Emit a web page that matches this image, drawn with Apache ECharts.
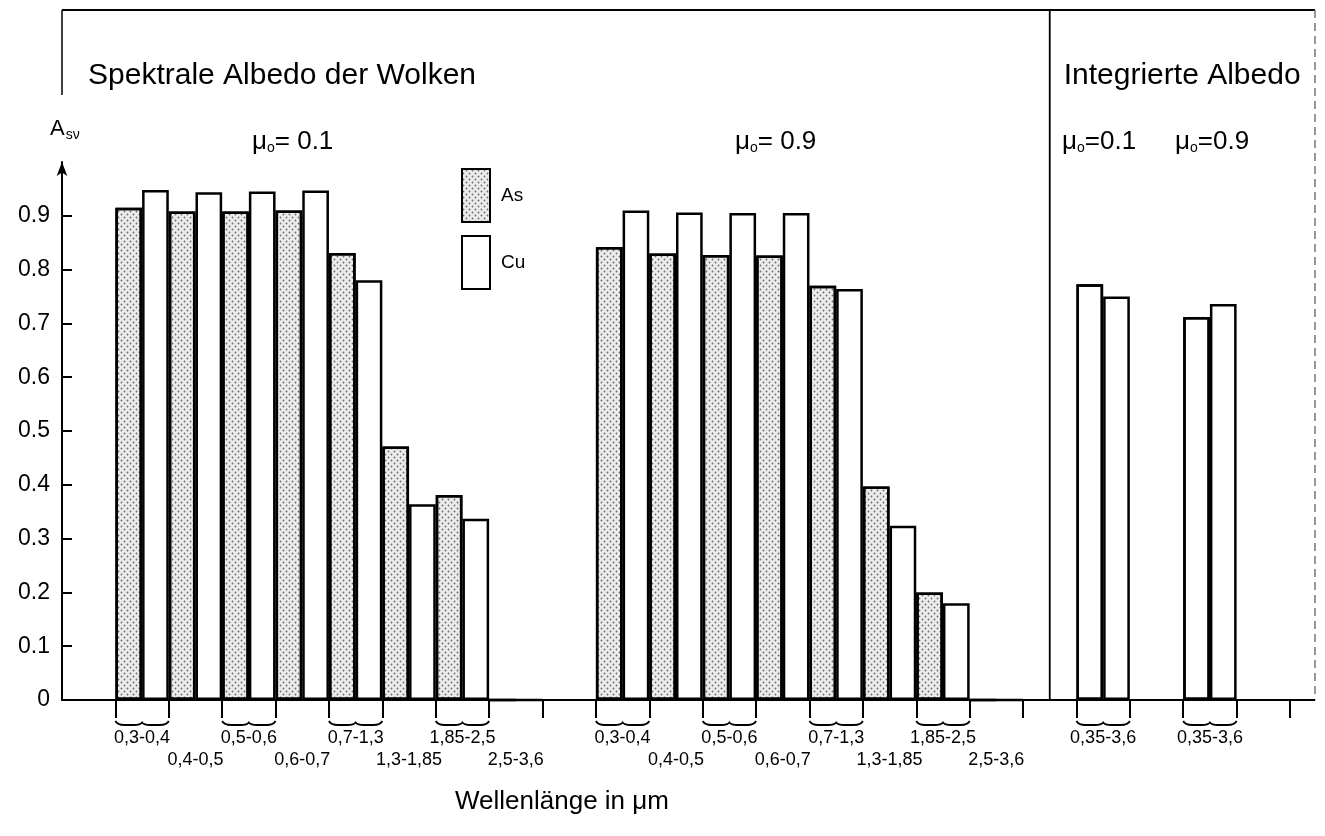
<!DOCTYPE html>
<html><head><meta charset="utf-8">
<script src="https://cdn.jsdelivr.net/npm/echarts@6/dist/echarts.min.js"></script>
<style>html,body{margin:0;padding:0;background:#fff}#c{width:1325px;height:836px}</style>
</head><body><div id="c"></div>
<script>
// ---- data ----
const wavebands = ['0,3-0,4','0,4-0,5','0,5-0,6','0,6-0,7','0,7-1,3','1,3-1,85','1,85-2,5','2,5-3,6'];
const integratedBand = '0,35-3,6';
const asMu01 = [0.915, 0.908, 0.908, 0.910, 0.831, 0.471, 0.381, 0];
const cuMu01 = [0.948, 0.944, 0.945, 0.947, 0.780, 0.364, 0.337, 0];
const asMu09 = [0.842, 0.830, 0.827, 0.826, 0.770, 0.397, 0.200, 0];
const cuMu09 = [0.910, 0.906, 0.905, 0.905, 0.764, 0.324, 0.180, 0];
const asIntegrated = [0.773, 0.712];
const cuIntegrated = [0.750, 0.736];
const yTickValues = [0, 0.1, 0.2, 0.3, 0.4, 0.5, 0.6, 0.7, 0.8, 0.9];
const yTickLabels = ['0','0.1','0.2','0.3','0.4','0.5','0.6','0.7','0.8','0.9'];

// ---- build axis / series ----
const categories = ['', ...wavebands, '', ...wavebands, '', integratedBand, '', integratedBand, ''];
const bandRows = wavebands.map((_, i) => (i % 2 === 0 ? 1 : 2));
const rows = [0, ...bandRows, 0, ...bandRows, 0, 1, 0, 1, 0];
const plainStyle = {color: '#fff', decal: {symbol: 'none'}};
const asData = ['-', ...asMu01, '-', ...asMu09, '-',
  {value: asIntegrated[0], itemStyle: plainStyle}, '-', {value: asIntegrated[1], itemStyle: plainStyle}, '-'];
const cuData = ['-', ...cuMu01, '-', ...cuMu09, '-', cuIntegrated[0], '-', cuIntegrated[1], '-'];
const braceData = rows.map((r, i) => r === 1 ? [i, 0] : null).filter(Boolean);

const FONT = '"Liberation Sans", Arial, Helvetica, sans-serif';
const chart = echarts.init(document.getElementById('c'), null, {renderer: 'canvas'});

const stipple = {
  symbol: 'circle', symbolSize: 0.6, color: 'rgba(0,0,0,0.55)',
  dashArrayX: [[3, 3], [0, 3, 3, 0]], dashArrayY: [3, 0]
};

chart.setOption({
  backgroundColor: '#fff',
  animation: false,
  textStyle: {fontFamily: FONT, color: '#000'},
  grid: {left: 62, right: 35, top: 162, bottom: 136, containLabel: false},
  legend: {
    data: ['As', 'Cu'], orient: 'vertical', left: 461, top: 168,
    itemWidth: 28, itemHeight: 53, itemGap: 12, padding: 0, icon: 'rect',
    textStyle: {fontSize: 19, fontFamily: FONT, color: '#000', padding: [0, 0, 0, 6]}
  },
  xAxis: {
    type: 'category', data: categories, boundaryGap: true,
    axisLine: {show: true, lineStyle: {color: '#000', width: 2}},
    axisTick: {show: true, length: 18, interval: (i) => i > 0, lineStyle: {color: '#000', width: 2}},
    axisLabel: {
      interval: 0, margin: 27, fontSize: 18, lineHeight: 22, color: '#000', fontFamily: FONT,
      hideOverlap: false,
      formatter: (v, i) => rows[i] === 1 ? v : (rows[i] === 2 ? '\n' + v : '')
    },
    splitLine: {show: false}
  },
  yAxis: {
    type: 'value', min: 0, max: 1, interval: 0.1,
    axisLine: {show: true, symbol: ['none', 'arrow'], symbolSize: [8, 14], lineStyle: {color: '#000', width: 2}},
    axisTick: {show: true, inside: true, length: 10, customValues: yTickValues, lineStyle: {color: '#000', width: 2}},
    axisLabel: {
      margin: 12, fontSize: 23, color: '#000', fontFamily: FONT, customValues: yTickValues,
      formatter: (v) => { const k = Math.round(v * 10); return k < yTickLabels.length ? yTickLabels[k] : ''; }
    },
    splitLine: {show: false}
  },
  series: [
    {
      name: 'As', type: 'bar', data: asData, barGap: '0%', barCategoryGap: '0%',
      itemStyle: {color: '#ececec', borderColor: '#000', borderWidth: 2.5, decal: stipple}
    },
    {
      name: 'Cu', type: 'bar', data: cuData, barGap: '0%', barCategoryGap: '0%',
      itemStyle: {color: '#fff', borderColor: '#000', borderWidth: 2.5}
    },
    {
      name: 'braces', type: 'custom', data: braceData, clip: false, silent: true,
      encode: {x: 0, y: 1},
      renderItem: (params, api) => {
        const c = api.coord([api.value(0), 0]);
        const w = api.size([1, 0])[0];
        const x0 = c[0] - w / 2, x1 = c[0] + w / 2, xm = c[0];
        const y = c[1] + 21;
        const d = `M${x0} ${y} Q${x0 + 2} ${y + 4} ${x0 + 9} ${y + 4} L${xm - 8} ${y + 4} Q${xm - 2} ${y + 4} ${xm} ${y + 1.5} ` +
                  `Q${xm + 2} ${y + 4} ${xm + 8} ${y + 4} L${x1 - 9} ${y + 4} Q${x1 - 2} ${y + 4} ${x1} ${y}`;
        return {type: 'path', shape: {pathData: d}, style: {fill: null, stroke: '#000', lineWidth: 1.8}};
      }
    }
  ]
});

// decorative frame & texts, divider placed through the axis
const divX = chart.convertToPixel({xAxisIndex: 0}, 18);
const baseY = chart.convertToPixel({yAxisIndex: 0}, 0);
const muRich = {
  m: {fontSize: 26, fontFamily: FONT, color: '#000'},
  s: {fontSize: 14, fontFamily: FONT, color: '#000', padding: [13, 0, 0, 0]}
};
chart.setOption({
  graphic: [
    {type: 'line', shape: {x1: 62, y1: 10, x2: 1315, y2: 10}, style: {stroke: '#000', lineWidth: 2}},
    {type: 'line', shape: {x1: 62, y1: 10, x2: 62, y2: 95}, style: {stroke: '#000', lineWidth: 1.5}},
    {type: 'line', shape: {x1: divX, y1: 10, x2: divX, y2: baseY}, style: {stroke: '#000', lineWidth: 1.8}},
    {type: 'line', shape: {x1: 1315, y1: 10, x2: 1315, y2: baseY}, style: {stroke: '#777', lineWidth: 1.5, lineDash: [8, 5]}},
    {type: 'line', shape: {x1: 1290, y1: baseY, x2: 1315, y2: baseY}, style: {stroke: '#000', lineWidth: 2}},
    {type: 'text', left: 88, top: 61, style: {text: 'Spektrale Albedo der Wolken', fontSize: 30, fontFamily: FONT, fill: '#000'}},
    {type: 'text', left: divX + 14, top: 61, style: {text: 'Integrierte Albedo', fontSize: 30, fontFamily: FONT, fill: '#000'}},
    {type: 'text', left: 50, top: 118, style: {text: '{m|A}{s|sν}', rich: {m: {fontSize: 22, fontFamily: FONT}, s: {fontSize: 14, fontFamily: FONT, padding: [12, 0, 0, 1]}}}},
    {type: 'text', left: 252, top: 129, style: {text: '{m|μ}{s|o}{m|= 0.1}', rich: muRich}},
    {type: 'text', left: 735, top: 129, style: {text: '{m|μ}{s|o}{m|= 0.9}', rich: muRich}},
    {type: 'text', left: 1062, top: 129, style: {text: '{m|μ}{s|o}{m|=0.1}', rich: muRich}},
    {type: 'text', left: 1175, top: 129, style: {text: '{m|μ}{s|o}{m|=0.9}', rich: muRich}},
    {type: 'text', left: 455, top: 789, style: {text: 'Wellenlänge in μm', fontSize: 26, fontFamily: FONT, fill: '#000'}}
  ]
});
</script>
</body></html>
